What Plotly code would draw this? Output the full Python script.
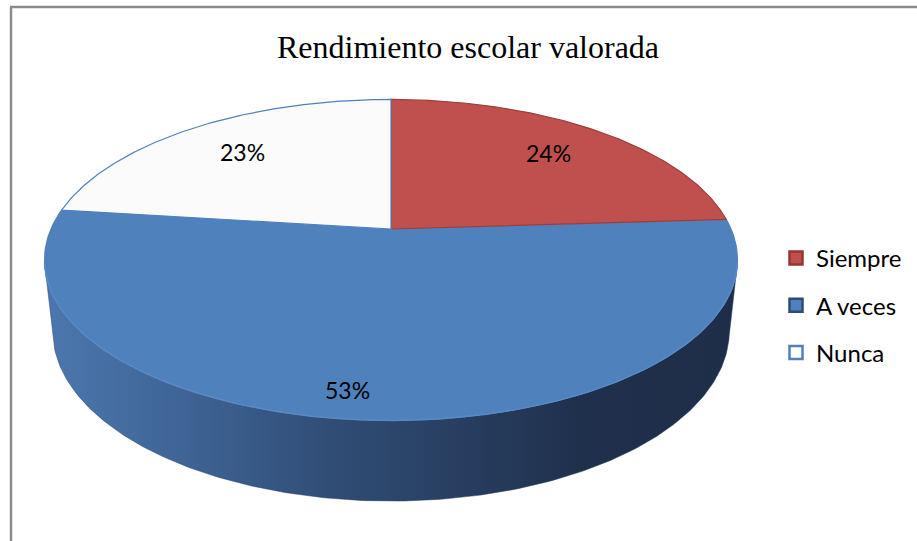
import numpy as np
import plotly.graph_objects as go

# ---------------- data ----------------
categories = ["Siempre", "A veces", "Nunca"]
values = [24, 53, 23]
title_text = "Rendimiento escolar valorada"

# ---------------- style ----------------
top_fill = ["#c0504d", "#4f81bd", "#fbfbfb"]
top_line = ["#9c3f3c", "#4f81bd", "#4f81bd"]
legend_fill = ["#c0504d", "#4f81bd", "#ffffff"]
legend_border = ["#943634", "#2c4d75", "#4f81bd"]
label_radius = [0.75, 0.87, 0.73]
label_nudge = [0, -32, 0]

W, H = 917, 541
CX, CY = 391, 229          # pixel position of pie centre
A = 340.0                  # px per radius at centre depth
SIN_A = 0.4545
COS_A = float(np.sqrt(1 - SIN_A ** 2))
K = 0.1926                 # perspective strength (cos a / d)
SD = SIN_A * K / COS_A     # sin a / d
THICK = 0.236              # pie thickness (radius units)


def proj(r, theta_deg, yv=0.0):
    t = np.radians(theta_deg)
    X = r * np.sin(t)
    Z = r * np.cos(t)
    den = 1 - yv * SD + Z * K
    u = A * X / den
    v = A * (yv * COS_A + Z * SIN_A) / den
    return CX + u, CY - v


fig = go.Figure()

# side wall (visible front part) with horizontal gradient
vis = np.degrees(np.arccos(-1 / (COS_A / K)))
th1, th2 = vis, 360 - vis
ts = np.linspace(th1, th2, 200)
xt, yt = proj(1, ts, 0)
xb, yb = proj(1, ts[::-1], -THICK)
xs = np.concatenate([xt, xb, xt[:1]])
ys = np.concatenate([yt, yb, yt[:1]])
xmin, xmax = float(xs.min()), float(xs.max())
grad_x = [47, 230, 330, 470, 580, 740]
grad_c = ["rgb(76,120,175)", "rgb(58,93,140)", "rgb(48,77,117)", "rgb(39,61,95)",
          "rgb(31,48,76)", "rgb(30,46,72)"]
scale = [[min(1.0, max(0.0, (gx - xmin) / (xmax - xmin))), c] for gx, c in zip(grad_x, grad_c)]
scale[0][0] = 0.0
scale[-1][0] = 1.0
fig.add_trace(go.Scatter(x=xs, y=ys, mode="lines", fill="toself",
                         fillgradient=dict(type="horizontal", colorscale=scale),
                         line=dict(color="rgba(40,64,100,0.6)", width=0.8),
                         hoverinfo="skip", showlegend=False))

# top face slices
cum = np.concatenate([[0], np.cumsum(values)]) / np.sum(values) * 360
order = [1, 0, 2]
for i in order:
    ta = np.linspace(cum[i], cum[i + 1], 160)
    xa, ya = proj(1, ta, 0)
    px = np.concatenate([[CX], xa, [CX]])
    py = np.concatenate([[CY], ya, [CY]])
    fig.add_trace(go.Scatter(x=px, y=py, mode="lines", fill="toself", fillcolor=top_fill[i],
                             line=dict(color=top_line[i], width=1.2), hoverinfo="skip",
                             showlegend=False))

# light rim along front edge of the top face
tr = np.linspace(th1, th2, 160)
xr, yr = proj(1, tr, 0)
fig.add_trace(go.Scatter(x=xr, y=yr, mode="lines", line=dict(color="#5a8ac6", width=1.5),
                         hoverinfo="skip", showlegend=False))

# percentage labels
for i in range(3):
    mid = (cum[i] + cum[i + 1]) / 2
    lx, ly = proj(label_radius[i], mid, 0)
    pct = round(values[i] / np.sum(values) * 100)
    fig.add_annotation(x=lx, y=ly, text="%d%%" % pct, showarrow=False, xshift=label_nudge[i],
                       font=dict(family="Lato", size=23, color="#000000"))

# legend entries
for i, c in enumerate(categories):
    fig.add_trace(go.Scatter(x=[None], y=[None], mode="markers", name=c, legendgroup=c,
                             marker=dict(symbol="square", size=13, color=legend_fill[i],
                                         line=dict(color=legend_border[i], width=2.5))))

# chart border (top and left visible)
fig.add_shape(type="line", x0=10, x1=W, y0=7, y1=7, line=dict(color="#8c8c8c", width=2.5))
fig.add_shape(type="line", x0=11, x1=11, y0=7, y1=H, line=dict(color="#8c8c8c", width=2.5))

fig.update_layout(
    width=W, height=H,
    margin=dict(l=0, r=0, t=0, b=0),
    paper_bgcolor="white", plot_bgcolor="white",
    xaxis=dict(range=[0, W], visible=False, fixedrange=True),
    yaxis=dict(range=[H, 0], visible=False, fixedrange=True),
    title=dict(text=title_text, x=468 / W, xanchor="center", y=1 - 47 / H, yanchor="middle",
               font=dict(family="Liberation Serif", size=32, color="#000000")),
    legend=dict(x=776 / W, xanchor="left", y=1 - 236 / H, yanchor="top",
                font=dict(family="Lato", size=24, color="#000000"),
                tracegroupgap=13, itemwidth=30, bgcolor="rgba(0,0,0,0)"),
    showlegend=True,
)

fig.write_html("out.html", config={"displayModeBar": False},
               post_script="document.body.style.margin='0';document.body.style.overflow='hidden';")
